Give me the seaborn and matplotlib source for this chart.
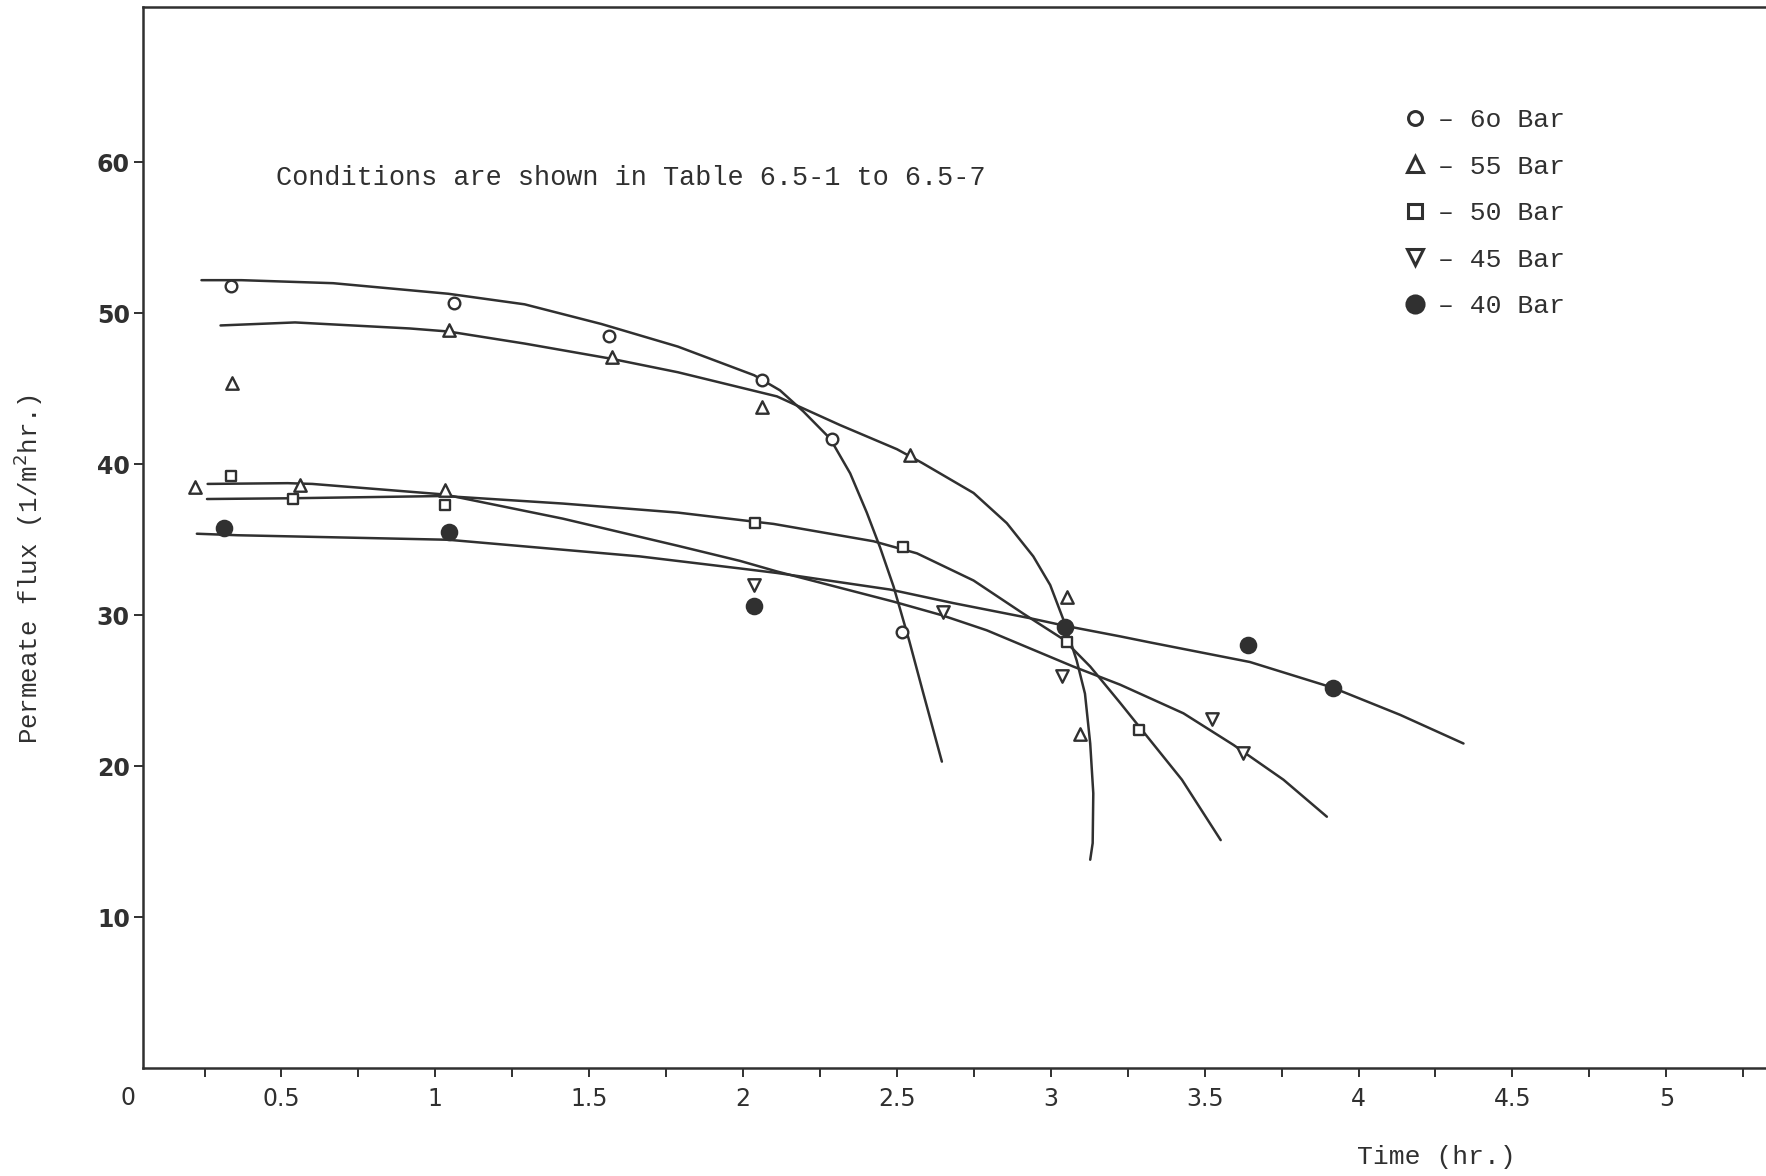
import numpy as np
import pandas as pd
import matplotlib
matplotlib.use("Agg")
import matplotlib.pyplot as plt
from matplotlib.lines import Line2D
import seaborn as sns

# ---------------- data ----------------
series = ["6o Bar", "55 Bar", "50 Bar", "45 Bar", "40 Bar"]

# hand-fitted curves
curve60_x = [0.24, 0.37, 0.668, 1.042, 1.29, 1.539, 1.788, 2.036, 2.12, 2.196, 2.283, 2.348,
             2.402, 2.445, 2.489, 2.54, 2.586, 2.646]
curve60_y = [52.2, 52.2, 52.0, 51.3, 50.6, 49.3, 47.8, 45.9, 44.9, 43.5, 41.7, 39.4,
             36.8, 34.5, 31.9, 28.3, 24.8, 20.3]

curve55_x = [0.302, 0.544, 0.917, 1.042, 1.29, 1.57, 1.788, 2.11, 2.185, 2.315, 2.5, 2.581,
             2.749, 2.857, 2.943, 2.998, 3.041, 3.084, 3.111, 3.128, 3.138, 3.136, 3.128]
curve55_y = [49.2, 49.4, 49.0, 48.8, 48.0, 47.0, 46.1, 44.5, 43.8, 42.6, 41.0, 40.1,
             38.1, 36.1, 33.9, 32.0, 29.7, 27.0, 24.8, 21.5, 18.2, 14.9, 13.8]

curve50_x = [0.258, 0.532, 1.029, 1.414, 1.788, 2.036, 2.099, 2.424, 2.565, 2.749, 2.911,
             3.041, 3.128, 3.225, 3.288, 3.426, 3.552]
curve50_y = [37.7, 37.75, 37.9, 37.4, 36.8, 36.2, 36.05, 34.9, 34.1, 32.3, 30.1,
             28.4, 26.6, 24.2, 22.6, 19.1, 15.1]

curve45_x = [0.26, 0.52, 0.60, 1.029, 1.414, 1.788, 1.99, 2.11, 2.489, 2.646, 2.792, 3.073,
             3.225, 3.431, 3.594, 3.756, 3.897]
curve45_y = [38.7, 38.75, 38.7, 38.0, 36.4, 34.6, 33.6, 32.9, 30.9, 30.0, 29.0, 26.6,
             25.4, 23.5, 21.4, 19.1, 16.65]

curve40_x = [0.225, 0.357, 1.042, 1.663, 1.99, 2.11, 2.478, 2.684, 2.933, 3.046, 3.225,
             3.322, 3.647, 3.916, 4.135, 4.341]
curve40_y = [35.4, 35.3, 35.0, 33.9, 33.1, 32.8, 31.7, 30.8, 29.8, 29.3, 28.6,
             28.2, 26.9, 25.2, 23.4, 21.5]

# measured points
pts60_x = [0.337, 1.059, 1.565, 2.061, 2.29, 2.516]
pts60_y = [51.8, 50.7, 48.5, 45.6, 41.7, 28.9]

pts55_x = [0.339, 1.043, 1.574, 2.061, 2.543, 3.052, 3.095, 0.22, 0.561, 1.032]
pts55_y = [45.4, 48.9, 47.1, 43.8, 40.6, 31.2, 22.1, 38.5, 38.6, 38.3]

pts50_x = [0.335, 0.539, 1.032, 2.039, 2.521, 3.052, 3.288]
pts50_y = [39.2, 37.7, 37.3, 36.1, 34.5, 28.25, 22.4]

pts45_x = [2.034, 2.651, 3.036, 3.523, 3.626]
pts45_y = [32.0, 30.2, 26.0, 23.1, 20.85]

pts40_x = [0.312, 1.043, 2.034, 3.046, 3.642, 3.916]
pts40_y = [35.8, 35.5, 30.6, 29.2, 28.0, 25.2]

x_ticks = [0.5, 1, 1.5, 2, 2.5, 3, 3.5, 4, 4.5, 5]
x_ticklabels = ["0.5", "1", "1.5", "2", "2.5", "3", "3.5", "4", "4.5", "5"]
y_ticks = [10, 20, 30, 40, 50, 60]

note_text = "Conditions are shown in Table 6.5-1 to 6.5-7"
x_title = "Time (hr.)"
y_title = "Permeate flux (1/m$^2$hr.)"

# ---------------- style ----------------
sns.set_theme(style="white")
mono = ["Liberation Mono", "DejaVu Sans Mono"]
ink = "#303030"
plt.rcParams["font.family"] = ["DejaVu Sans"]

W, H = 1766, 1176
fig = plt.figure(figsize=(W / 100, H / 100), dpi=100)
fig.patch.set_facecolor("white")
ax = fig.add_axes([143 / W, 1 - 1068 / H, 1 - 143 / W, (1068 - 7) / H])
ax.set_facecolor("white")

curves = [(curve60_x, curve60_y), (curve55_x, curve55_y), (curve50_x, curve50_y),
          (curve45_x, curve45_y), (curve40_x, curve40_y)]
for name, (cx, cy) in zip(series, curves):
    df = pd.DataFrame({"t": cx, "flux": cy})
    sns.lineplot(data=df, x="t", y="flux", sort=False, estimator=None,
                 color=ink, lw=1.8, ax=ax, legend=False)
for ln in ax.get_lines():
    ln.set_solid_joinstyle("round")
    ln.set_solid_capstyle("round")

marker_specs = [
    (pts60_x, pts60_y, "o", 70, "white"),
    (pts55_x, pts55_y, "^", 80, "white"),
    (pts50_x, pts50_y, "s", 60, "white"),
    (pts45_x, pts45_y, "v", 80, "white"),
    (pts40_x, pts40_y, "o", 120, ink),
]
for (px, py, mk, s, fc) in marker_specs:
    sns.scatterplot(x=px, y=py, marker=mk, s=s, facecolor=fc, edgecolor=ink,
                    linewidth=1.7, ax=ax, zorder=5, legend=False)

ax.set_xlim(0.05, 5.324)
ax.set_ylim(0, 70.3)

ax.spines["right"].set_visible(False)
for side in ["left", "bottom", "top"]:
    ax.spines[side].set_color(ink)
    ax.spines[side].set_linewidth(1.8)

ax.set_xticks(x_ticks)
ax.set_xticklabels(x_ticklabels)
ax.set_xticks(np.arange(0.25, 5.3, 0.5), minor=True)
ax.set_yticks(y_ticks)
ax.set_yticklabels([str(v) for v in y_ticks])
ax.tick_params(axis="x", which="both", direction="out", length=6.5, width=1.4,
               color=ink, pad=7, labelsize=17, labelcolor=ink, bottom=True)
ax.tick_params(axis="y", which="both", direction="out", length=6.5, width=1.4,
               color=ink, pad=3, labelsize=17, labelcolor=ink, left=True)
for lab in ax.get_yticklabels():
    lab.set_fontweight("bold")

ax.text(0, -0.028, "0", transform=ax.get_xaxis_transform(), ha="center", va="center",
        fontsize=17, color=ink, clip_on=False)

ax.set_xlabel(x_title, family=mono, fontsize=19, color=ink, va="center")
ax.xaxis.set_label_coords(0.797, -0.0836)
ax.set_ylabel(y_title, family=mono, fontsize=18.5, color=ink, va="center")
ax.yaxis.set_label_coords(-0.0709, 0.47)

ax.text(0.483, 59.0, note_text, family=mono, fontsize=19.4, color=ink,
        ha="left", va="center")

handles = [
    Line2D([], [], ls="none", marker="o", ms=10, mfc="white", mec=ink, mew=2.2),
    Line2D([], [], ls="none", marker="^", ms=12, mfc="white", mec=ink, mew=2.2),
    Line2D([], [], ls="none", marker="s", ms=10, mfc="white", mec=ink, mew=2.2),
    Line2D([], [], ls="none", marker="v", ms=12, mfc="white", mec=ink, mew=2.2),
    Line2D([], [], ls="none", marker="o", ms=13, mfc=ink, mec=ink, mew=1.5),
]
labels = ["– " + s for s in series]
leg = ax.legend(handles, labels, loc="upper left", bbox_to_anchor=(0.7676, 0.917),
                frameon=False, borderpad=0, handlelength=1.0, handletextpad=0.35,
                labelspacing=0.85, prop={"family": mono, "size": 19})
for t in leg.get_texts():
    t.set_color(ink)

fig.savefig("out.png", dpi=100)
